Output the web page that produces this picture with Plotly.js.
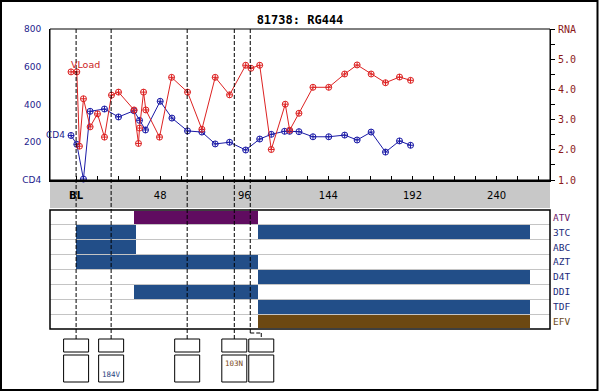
<!DOCTYPE html>
<html><head><meta charset="utf-8">
<script src="https://cdn.plot.ly/plotly-3.0.1.min.js"></script>
<style>html,body{margin:0;padding:0;background:#fff}#chart{width:600px;height:392px}</style>
</head><body><div id="chart"></div>
<script>
// ---- data ----
const chartTitle = '81738: RG444';
const cd4Weeks = [-2.9,0.4,4.2,8,16.2,24.2,33,36.2,39.6,48,54.7,63.6,71.8,79.4,87.6,96.8,104.8,111.4,119,121.9,127.2,135.2,144.2,153.3,160.4,168.4,176.6,184.6,190.9];
const cd4Values = [236,189,5,364,376,334,367,316,265,417,328,260,254,191,200,159,217,242,258,258,256,229,229,238,212,254,148,207,184];
const vlWeeks = [-2.9,0.4,1.9,4.2,8,12.2,16.2,20.2,24.2,33.1,35.6,36.2,38.5,39.8,47.6,54.5,63.6,71.8,79.4,87.6,96.8,99.8,104.8,111.4,119.4,121.9,127.2,135.2,144.2,153.3,160.4,168.4,176.6,184.6,190.9];
const vlValues = [4.58,4.58,2.12,3.69,2.76,3.19,2.42,3.81,3.91,3.32,2.21,2.72,3.91,3.32,2.42,4.40,3.91,2.68,4.40,3.82,4.80,4.70,4.80,2.01,3.51,2.65,3.21,4.07,4.07,4.51,4.81,4.51,4.22,4.41,4.30];
const xTickVals = [0,48,96,144,192,240];
const xTickText = ['<b>BL</b>','48','96','144','192','240'];
const xTickStep = 12;
const cd4TickVals = [0,200,400,600,800];
const cd4TickText = ['CD4','200','400','600','800'];
const rnaTickVals = [1,2,3,4,5,6];
const rnaTickText = ['1.0','2.0','3.0','4.0','5.0','RNA'];
const drugs = ['ATV','3TC','ABC','AZT','D4T','DDI','TDF','EFV'];
const segDrug  = ['ATV','3TC','3TC','ABC','AZT','D4T','DDI','TDF','EFV'];
const segStart = [33,   0,    104,  0,    0,    104,  33,   104,  104];
const segEnd   = [104,  34,   259,  34,   104,  259,  104,  259,  259];
const eventWeeks = [0,20,63.4,90.3,99.4];
const eventMutations = ['','184V','','103N',''];
const mutationClass = ['','NRTI','','NNRTI',''];

// ---- styles ----
const drugColor = {ATV:'#600c60', EFV:'#6c4812'};
const defaultDrugColor = '#224e88';
const drugLabelColor = {ATV:'#6a1a6a', EFV:'#6b4a1a'};
const defaultLabelColor = '#1a2a7a';
const mutColor = {NRTI:'#1f3f80', NNRTI:'#7b4b1b'};
const py = p => (329 - p) / 300;   // pixel row -> paper fraction
const pxp = p => (p - 50) / 500;   // pixel col -> paper fraction

// all x tick positions (every 12 weeks), labels only on the labelled ones
const allXTicks = [], allXText = [];
for (let w = 0; w <= 264; w += xTickStep) {
  allXTicks.push(w);
  const k = xTickVals.indexOf(w);
  allXText.push(k >= 0 ? xTickText[k] : '');
}

const traces = [
  {type:'scatter', mode:'lines+markers', x:cd4Weeks, y:cd4Values, xaxis:'x', yaxis:'y',
   line:{color:'#1a1aa6', width:1}, marker:{symbol:'circle-cross-open', size:6, color:'#1a1aa6', line:{width:1}},
   cliponaxis:false, hoverinfo:'skip'},
  {type:'scatter', mode:'lines+markers', x:vlWeeks, y:vlValues, xaxis:'x', yaxis:'y2',
   line:{color:'#dd2222', width:1}, marker:{symbol:'circle-cross-open', size:6, color:'#dd2222', line:{width:1}},
   cliponaxis:false, hoverinfo:'skip'},
  {type:'bar', orientation:'h', xaxis:'x', yaxis:'y3', y:segDrug,
   base:segStart, x:segEnd.map((e,i)=>e-segStart[i]), width:0.92,
   marker:{color:segDrug.map(d=>drugColor[d]||defaultDrugColor), line:{width:0}}, hoverinfo:'skip'}
];

const dash = {color:'#000', width:1, dash:'4px,2px'};
const shapes = [
  {type:'rect', xref:'paper', yref:'paper', x0:0, x1:1, y0:py(208), y1:py(180), fillcolor:'#c8c8c8', line:{width:0}, layer:'below'},
  {type:'rect', xref:'paper', yref:'paper', x0:0, x1:1, y0:py(180), y1:1, line:{color:'#000', width:1}, layer:'above'},
  {type:'rect', xref:'paper', yref:'paper', x0:0, x1:1, y0:py(329), y1:py(210), line:{color:'#000', width:1.5}, layer:'above'},
  {type:'rect', xref:'paper', yref:'paper', x0:pxp(1), x1:pxp(597.5), y0:py(390), y1:py(1), line:{color:'#000', width:2}, layer:'above'}
];
eventWeeks.forEach((w,i)=>{
  const last = i === eventWeeks.length-1;
  const off = last ? 11 : 0;
  shapes.push({type:'line', xref:'x', yref:'paper', x0:w, x1:w, y0:1, y1:py(last?333:339), line:dash, layer:'above'});
  if (last) {
    shapes.push({type:'line', xref:'x', yref:'paper', xsizemode:'pixel', xanchor:w, x0:0, x1:off, y0:py(333), y1:py(333), line:dash, layer:'above'});
    shapes.push({type:'line', xref:'x', yref:'paper', xsizemode:'pixel', xanchor:w, x0:off, x1:off, y0:py(333), y1:py(339), line:dash, layer:'above'});
  }
  shapes.push({type:'rect', xref:'x', yref:'paper', xsizemode:'pixel', xanchor:w, x0:off-12.5, x1:off+12.5, y0:py(352), y1:py(339), line:{color:'#000', width:1}, fillcolor:'#fff', layer:'above'});
  shapes.push({type:'rect', xref:'x', yref:'paper', xsizemode:'pixel', xanchor:w, x0:off-12.5, x1:off+12.5, y0:py(382), y1:py(355), line:{color:'#000', width:1}, fillcolor:'#fff', layer:'above'});
});

const annotations = [
  {xref:'x', yref:'y', x:cd4Weeks[0], y:cd4Values[0], text:'CD4', showarrow:false, xanchor:'right', xshift:-4,
   font:{family:'DejaVu Sans', size:9, color:'#1c1c8c'}},
  {xref:'x', yref:'y2', x:vlWeeks[0], y:vlValues[0], text:'VLoad', showarrow:false, xanchor:'left', yanchor:'bottom', xshift:-2, yshift:0,
   font:{family:'DejaVu Sans', size:9.5, color:'#cc2222'}}
];
eventMutations.forEach((m,i)=>{
  if (!m) return;
  const nn = mutationClass[i] === 'NNRTI';
  annotations.push({xref:'x', yref:'paper', x:eventWeeks[i], y:py(nn?363:374), text:m, showarrow:false,
    xanchor:'left', yanchor:'middle', xshift:-11, font:{family:'DejaVu Sans Mono', size:7.5, color:mutColor[mutationClass[i]]}});
});

const layout = {
  width:600, height:392,
  margin:{l:50, r:50, t:29, b:63, pad:0},
  paper_bgcolor:'#fff', plot_bgcolor:'rgba(0,0,0,0)',
  showlegend:false,
  title:{text:'<b>'+chartTitle+'</b>', font:{family:'DejaVu Sans Mono', size:12, color:'#000'},
         x:0.5, xref:'container', y:1-20/392, yref:'container', yanchor:'middle', xanchor:'center'},
  xaxis:{range:[-14.9,270.5], anchor:'y', tickmode:'array', tickvals:allXTicks, ticktext:allXText,
         ticks:'inside', ticklen:4, tickcolor:'#000', tickwidth:1,
         showgrid:false, zeroline:false, showline:true, linecolor:'#000', linewidth:2,
         tickfont:{family:'DejaVu Sans', size:10, color:'#000'}, ticklabelstandoff:5, fixedrange:true},
  yaxis:{domain:[py(180),1], range:[0,800], tickmode:'array', tickvals:cd4TickVals, ticktext:cd4TickText,
         ticks:'', showgrid:false, zeroline:false, showline:true, linecolor:'#000', linewidth:1,
         tickfont:{family:'DejaVu Sans', size:9, color:'#1c1c8c'}, ticklabelstandoff:6, fixedrange:true},
  yaxis2:{overlaying:'y', side:'right', anchor:'x', range:[1,6], tickmode:'array', tickvals:rnaTickVals, ticktext:rnaTickText,
          ticks:'outside', ticklen:4, tickcolor:'#000',
          minor:{tickmode:'linear', tick0:1, dtick:0.5, ticks:'outside', ticklen:4, tickcolor:'#000', showgrid:false},
          showline:true, linecolor:'#000', linewidth:1, showgrid:false, zeroline:false,
          tickfont:{family:'DejaVu Sans Mono', size:10, color:'#8b1a1a'}, ticklabelstandoff:1, fixedrange:true},
  yaxis3:{domain:[0,py(210)], anchor:'x', side:'right', type:'category',
          categoryorder:'array', categoryarray:drugs, range:[drugs.length-0.5,-0.5],
          tickmode:'array', tickvals:drugs,
          ticktext:drugs.map(d=>'<span style="color:'+(drugLabelColor[d]||defaultLabelColor)+'">'+d+'</span>'),
          tickson:'boundaries', ticks:'', showgrid:true, gridcolor:'#c4c4c4', gridwidth:1,
          zeroline:false, showline:false, tickfont:{family:'DejaVu Sans Mono', size:9.5, color:defaultLabelColor},
          ticklabelstandoff:2, fixedrange:true},
  bargap:0,
  shapes:shapes,
  annotations:annotations
};

Plotly.newPlot('chart', traces, layout, {displayModeBar:false, staticPlot:true});
</script>
</body></html>
